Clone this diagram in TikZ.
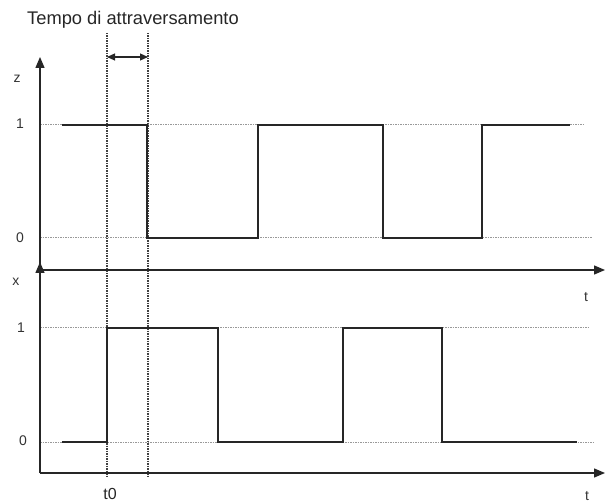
\documentclass[tikz,border=0pt]{standalone}
\usepackage{fontspec}
\setmainfont{Liberation Sans}
\usetikzlibrary{arrows.meta}
\begin{document}
\begin{tikzpicture}[x=1pt,y=-1pt,
  sig/.style={line width=1.8pt, black!85, line join=miter},
  axis/.style={line width=1.4pt, black!85},
  lvl/.style={gray!80, line width=1pt, dash pattern=on 1.5pt off 1pt},
  guide/.style={black!75, line width=1.1pt, dash pattern=on 1.5pt off 1pt},
  lab/.style={font=\fontsize{14}{16}\selectfont, text=black!80, inner sep=0pt},
  tip/.style={-{Triangle[length=11pt,width=9pt]}}]
\useasboundingbox (0,0) rectangle (605,502);

% title
\node[anchor=base west, inner sep=0pt, font=\fontsize{18.3}{21}\selectfont, text=black!85] (title) at (27,25) {Tempo di attraversamento};

% coordinates
\coordinate (oz) at (40,270);
\coordinate (zt) at (40,57);
\coordinate (ox) at (40,473);
\coordinate (xt) at (40,262);
\coordinate (tz) at (605,270);
\coordinate (tx) at (605,473);

% level lines
\draw[lvl] (40,125) coordinate (z1a) -- (583,125) coordinate (z1b);
\draw[lvl] (40,238) coordinate (z0a) -- (592,238) coordinate (z0b);
\draw[lvl] (40,328) coordinate (x1a) -- (590,328) coordinate (x1b);
\draw[lvl] (40,442) coordinate (x0a) -- (593,442) coordinate (x0b);

% guides
\draw[guide] (107,33) coordinate (g1a) -- (107,478) coordinate (g1b);
\draw[guide] (148,33) coordinate (g2a) -- (148,478) coordinate (g2b);
\coordinate (da) at (107,57);
\coordinate (db) at (148,57);
\draw[line width=1.1pt, black!85, {Triangle[length=8pt,width=7pt]}-{Triangle[length=8pt,width=7pt]}] (da) -- (db);

% axes
\draw[axis,tip] (oz) -- (zt);
\draw[axis,tip] (ox) -- (xt);
\draw[axis,tip] (oz) -- (tz);
\draw[axis,tip] (ox) -- (tx);

% signals
\draw[sig] (62,125) -- (147,125) -- (147,238) -- (258,238) -- (258,125) -- (383,125) -- (383,238) -- (482,238) -- (482,125) -- (570,125);
\draw[sig] (62,442) -- (107,442) -- (107,328) -- (218,328) -- (218,442) -- (343,442) -- (343,328) -- (442,328) -- (442,442) -- (577,442);

% labels
\node[lab] (lz) at (17,79) {z};
\node[lab] (lz1) at (20,124) {1};
\node[lab] (lz0) at (20,238) {0};
\node[lab] (lx) at (16,282) {x};
\node[lab] (lx1) at (21,328) {1};
\node[lab] (lx0) at (23,441) {0};
\node[lab] (lt1) at (586,297) {t};
\node[lab] (lt2) at (587,496) {t};
\node[inner sep=0pt, font=\fontsize{16}{18}\selectfont, text=black!85] (t0) at (110,494) {t0};
\end{tikzpicture}
\end{document}
